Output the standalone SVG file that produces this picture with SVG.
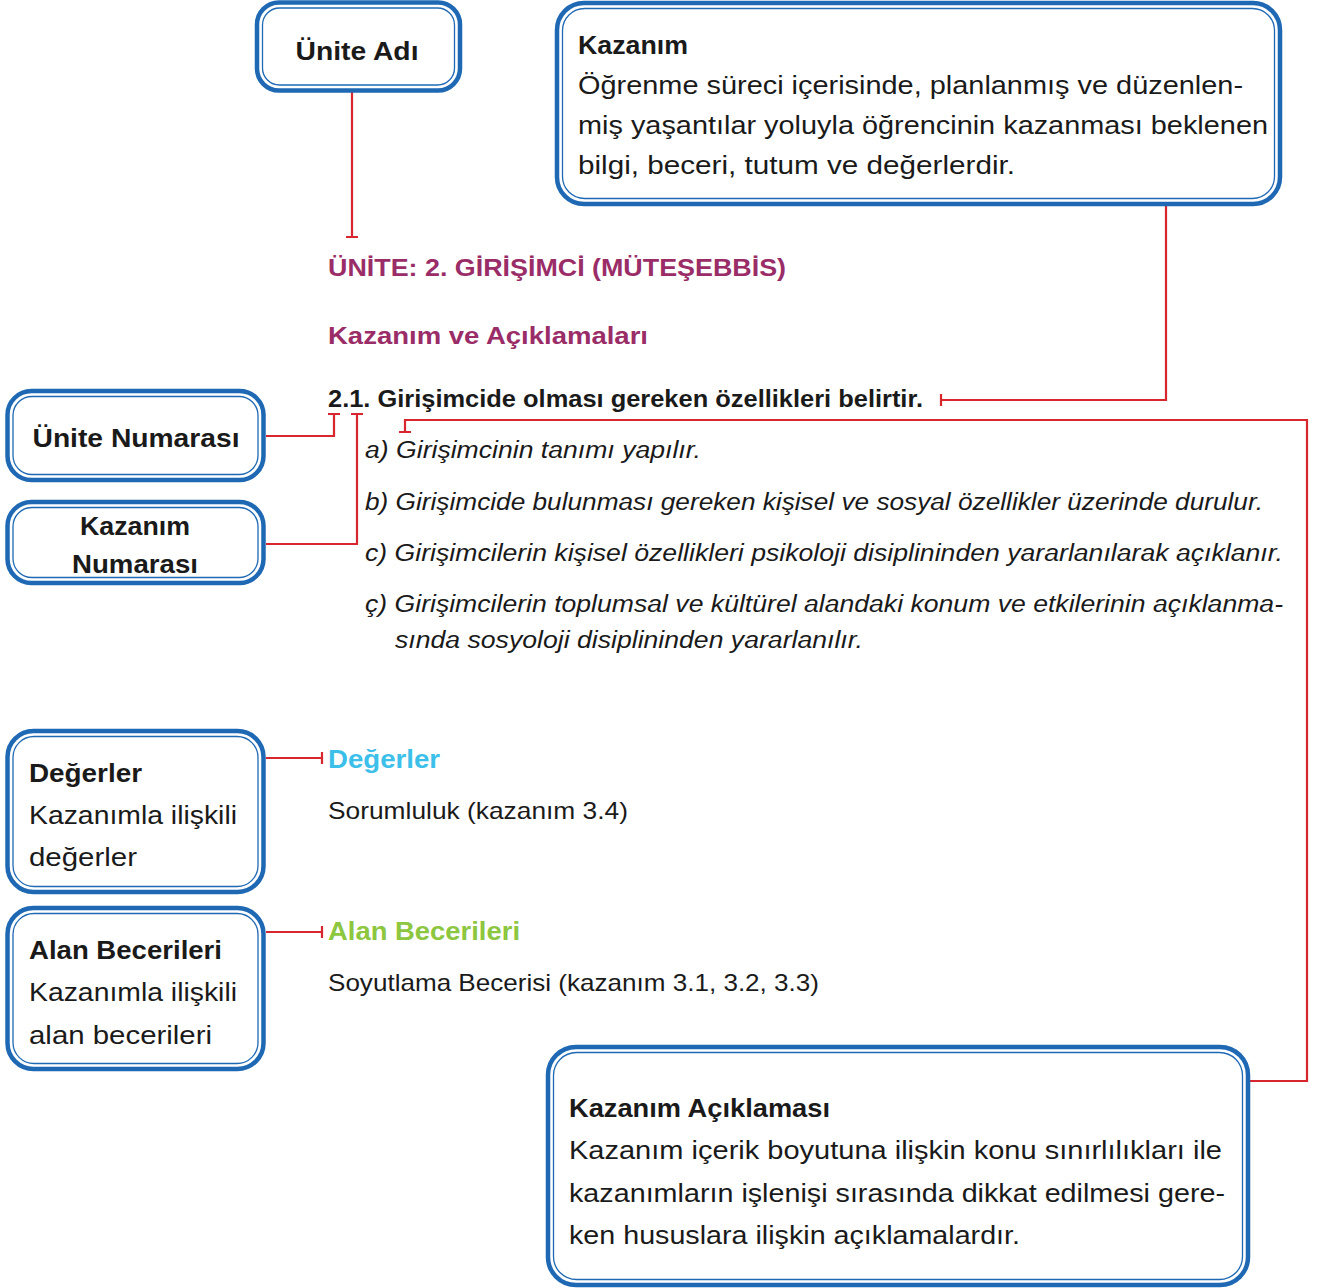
<svg xmlns="http://www.w3.org/2000/svg" width="1323" height="1288" viewBox="0 0 1323 1288">
<defs>
<style>
.o{fill:#fff;stroke:#1f69b4;stroke-width:4.5}
.i{fill:none;stroke:#1f69b4;stroke-width:1.3}
.c{fill:none;stroke:#d7262e;stroke-width:2.2}
text{font-family:"Liberation Sans",Arial,sans-serif;fill:#1a1a1a}
.b{font-weight:bold}
.t{font-size:25px}
.s{font-size:24px}
.it{font-style:italic;font-size:23.5px}
.p{fill:#9a2d67;font-weight:bold;font-size:24px}
.cy{fill:#3cc0ea;font-weight:bold;font-size:26px}
.gr{fill:#8dc63f;font-weight:bold;font-size:26px}
.m{text-anchor:middle}
</style>
</defs>
<rect width="1323" height="1288" fill="#fff"/>

<g id="connectors">
<path class="c" d="M352 92V237M346 237H358"/>
<path class="c" d="M1166 204V400H941M941 394V406"/>
<path class="c" d="M266 436H334V414M328 414H340"/>
<path class="c" d="M266 544H357V414M351 414H363"/>
<path class="c" d="M1250 1081H1307V420H405V432M399 432H411"/>
<path class="c" d="M266 758H322M322 752V764"/>
<path class="c" d="M266 932H322M322 926V938"/>
</g>

<g id="unite-adi">
<rect class="o" x="257" y="2.5" width="203" height="88" rx="22"/>
<rect class="i" x="262.5" y="8" width="192" height="77" rx="17"/>
<text class="t b m" x="357" y="60" textLength="123" lengthAdjust="spacingAndGlyphs">Ünite Adı</text>
</g>

<g id="kazanim">
<rect class="o" x="557" y="3" width="723" height="201" rx="27"/>
<rect class="i" x="562.5" y="8.5" width="712" height="190" rx="22"/>
<text class="t b" x="578" y="54" textLength="110" lengthAdjust="spacingAndGlyphs">Kazanım</text>
<text class="t" x="578" y="94" textLength="665" lengthAdjust="spacingAndGlyphs">Öğrenme süreci içerisinde, planlanmış ve düzenlen-</text>
<text class="t" x="578" y="134" textLength="690" lengthAdjust="spacingAndGlyphs">miş yaşantılar yoluyla öğrencinin kazanması beklenen</text>
<text class="t" x="578" y="174" textLength="437" lengthAdjust="spacingAndGlyphs">bilgi, beceri, tutum ve değerlerdir.</text>
</g>

<g id="unite-numarasi">
<rect class="o" x="7.5" y="391" width="256" height="89" rx="24"/>
<rect class="i" x="13" y="396.5" width="245" height="78" rx="19"/>
<text class="t b m" x="136" y="447" textLength="207" lengthAdjust="spacingAndGlyphs">Ünite Numarası</text>
</g>

<g id="kazanim-numarasi">
<rect class="o" x="7.5" y="502" width="256" height="81" rx="24"/>
<rect class="i" x="13" y="507.5" width="245" height="70" rx="19"/>
<text class="t b m" x="135" y="535" textLength="110" lengthAdjust="spacingAndGlyphs">Kazanım</text>
<text class="t b m" x="135" y="573" textLength="126" lengthAdjust="spacingAndGlyphs">Numarası</text>
</g>

<g id="degerler">
<rect class="o" x="7.5" y="731" width="256" height="161" rx="26"/>
<rect class="i" x="13" y="736.5" width="245" height="150" rx="21"/>
<text class="t b" x="29" y="782" textLength="113" lengthAdjust="spacingAndGlyphs">Değerler</text>
<text class="t" x="29" y="824" textLength="208" lengthAdjust="spacingAndGlyphs">Kazanımla ilişkili</text>
<text class="t" x="29" y="866" textLength="108" lengthAdjust="spacingAndGlyphs">değerler</text>
</g>

<g id="alan-becerileri">
<rect class="o" x="7.5" y="908" width="256" height="161" rx="26"/>
<rect class="i" x="13" y="913.5" width="245" height="150" rx="21"/>
<text class="t b" x="29" y="959" textLength="193" lengthAdjust="spacingAndGlyphs">Alan Becerileri</text>
<text class="t" x="29" y="1001" textLength="208" lengthAdjust="spacingAndGlyphs">Kazanımla ilişkili</text>
<text class="t" x="29" y="1044" textLength="183" lengthAdjust="spacingAndGlyphs">alan becerileri</text>
</g>

<g id="kazanim-aciklamasi">
<rect class="o" x="548" y="1047" width="700" height="238" rx="28"/>
<rect class="i" x="553.5" y="1052.5" width="689" height="227" rx="23"/>
<text class="t b" x="569" y="1117" textLength="261" lengthAdjust="spacingAndGlyphs">Kazanım Açıklaması</text>
<text class="t" x="569" y="1159" textLength="653" lengthAdjust="spacingAndGlyphs">Kazanım içerik boyutuna ilişkin konu sınırlılıkları ile</text>
<text class="t" x="569" y="1202" textLength="656" lengthAdjust="spacingAndGlyphs">kazanımların işlenişi sırasında dikkat edilmesi gere-</text>
<text class="t" x="569" y="1244" textLength="451" lengthAdjust="spacingAndGlyphs">ken hususlara ilişkin açıklamalardır.</text>
</g>

<g id="content">
<text class="p" x="328" y="276" textLength="458" lengthAdjust="spacingAndGlyphs">ÜNİTE: 2. GİRİŞİMCİ (MÜTEŞEBBİS)</text>
<text class="p" x="328" y="344" textLength="320" lengthAdjust="spacingAndGlyphs">Kazanım ve Açıklamaları</text>
<text class="s b" x="328" y="407" textLength="595" lengthAdjust="spacingAndGlyphs">2.1. Girişimcide olması gereken özellikleri belirtir.</text>
<text class="it" x="365" y="458" textLength="336" lengthAdjust="spacingAndGlyphs">a) Girişimcinin tanımı yapılır.</text>
<text class="it" x="365" y="510" textLength="898" lengthAdjust="spacingAndGlyphs">b) Girişimcide bulunması gereken kişisel ve sosyal özellikler üzerinde durulur.</text>
<text class="it" x="365" y="561" textLength="918" lengthAdjust="spacingAndGlyphs">c) Girişimcilerin kişisel özellikleri psikoloji disiplininden yararlanılarak açıklanır.</text>
<text class="it" x="365" y="612" textLength="918" lengthAdjust="spacingAndGlyphs">ç) Girişimcilerin toplumsal ve kültürel alandaki konum ve etkilerinin açıklanma-</text>
<text class="it" x="395" y="648" textLength="468" lengthAdjust="spacingAndGlyphs">sında sosyoloji disiplininden yararlanılır.</text>
<text class="cy" x="328" y="768" textLength="112" lengthAdjust="spacingAndGlyphs">Değerler</text>
<text class="s" x="328" y="819" textLength="300" lengthAdjust="spacingAndGlyphs">Sorumluluk (kazanım 3.4)</text>
<text class="gr" x="328" y="940" textLength="192" lengthAdjust="spacingAndGlyphs">Alan Becerileri</text>
<text class="s" x="328" y="991" textLength="491" lengthAdjust="spacingAndGlyphs">Soyutlama Becerisi (kazanım 3.1, 3.2, 3.3)</text>
</g>
</svg>
